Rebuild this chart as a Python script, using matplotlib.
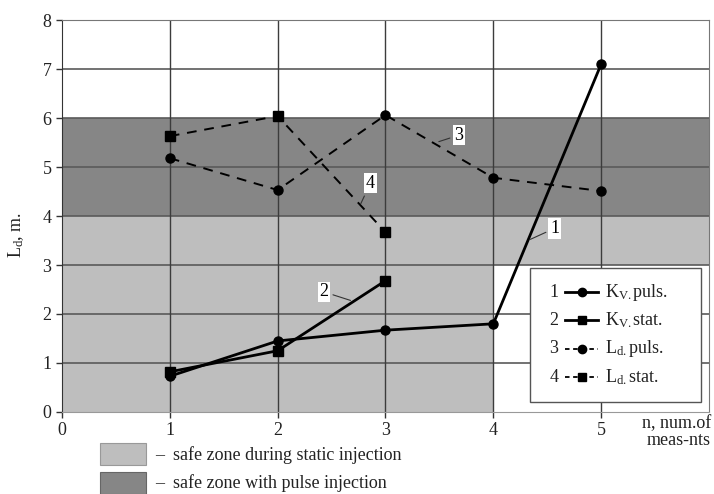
import matplotlib
matplotlib.use("Agg")
import matplotlib.pyplot as plt
from matplotlib.patches import Rectangle
from matplotlib.lines import Line2D

plt.rcParams["font.family"] = ["Liberation Serif", "DejaVu Serif"]
plt.rcParams["mathtext.fontset"] = "custom"
plt.rcParams["mathtext.rm"] = "Liberation Serif"
plt.rcParams["mathtext.it"] = "Liberation Serif"

# ── Data ────────────────────────────────────────────────────────────────────
n_puls = [1, 2, 3, 4, 5]
kv_puls = [0.73, 1.45, 1.67, 1.80, 7.10]      # 1: K_V puls.
n_stat = [1, 2, 3]
kv_stat = [0.82, 1.25, 2.68]                  # 2: K_V stat.
ld_puls = [5.18, 4.53, 6.06, 4.78, 4.51]      # 3: L_d puls.
ld_stat = [5.63, 6.04, 3.67]                  # 4: L_d stat.

x_ticks = [0, 1, 2, 3, 4, 5]
y_ticks = [0, 1, 2, 3, 4, 5, 6, 7, 8]

LIGHT = "#bebebe"
DARK = "#868686"

fig = plt.figure(figsize=(7.14, 4.94), dpi=100)
ax = fig.add_axes([0.0868, 0.166, 0.9062, 0.7935])
ax.set_xlim(0, 6)
ax.set_ylim(0, 8)

# safe zones
ax.add_patch(Rectangle((0, 4), 6, 2, fc=DARK, ec="none", zorder=0))
ax.add_patch(Rectangle((0, 0), 4, 4, fc=LIGHT, ec="none", zorder=0))
ax.add_patch(Rectangle((4, 3), 2, 1, fc=LIGHT, ec="none", zorder=0))

# grid
for y in y_ticks[1:-1]:
    ax.axhline(y, color="#5a5a5a", lw=1.2, zorder=1)
for x in x_ticks[1:]:
    ax.axvline(x, color="#3c3c3c", lw=1.0, zorder=1)

# series
ax.plot(n_puls, kv_puls, "-o", color="black", lw=2.0, ms=6.5, zorder=4)
ax.plot(n_stat, kv_stat, "-s", color="black", lw=2.0, ms=6.5, zorder=4)
ax.plot(n_puls, ld_puls, "--o", color="black", lw=1.4, ms=6.5,
        dashes=(5, 4), zorder=4)
ax.plot(n_stat, ld_stat, "--s", color="black", lw=1.4, ms=6.5,
        dashes=(5, 4), zorder=4)

# curve labels with leader lines
box = dict(boxstyle="square,pad=0.1", fc="white", ec="none")
lead = dict(arrowstyle="-", color="#333333", lw=0.8)
ax.annotate("1", xy=(4.32, 3.5), xytext=(4.57, 3.75), fontsize=13,
            ha="center", va="center", bbox=box, arrowprops=lead, zorder=5)
ax.annotate("2", xy=(2.70, 2.26), xytext=(2.43, 2.45), fontsize=13,
            ha="center", va="center", bbox=box, arrowprops=lead, zorder=5)
ax.annotate("3", xy=(3.47, 5.5), xytext=(3.68, 5.65), fontsize=13,
            ha="center", va="center", bbox=box, arrowprops=lead, zorder=5)
ax.annotate("4", xy=(2.76, 4.2), xytext=(2.86, 4.67), fontsize=13,
            ha="center", va="center", bbox=box, arrowprops=lead, zorder=5)

# legend box drawn by hand (number, handle, label)
ax.add_patch(Rectangle((0.723, 0.026), 0.265, 0.341, transform=ax.transAxes,
                       fc="white", ec="#555555", lw=1.0, zorder=6))
rows = [
    ("1", "-", "o", r"K$_{\rm V.}$puls."),
    ("2", "-", "s", r"K$_{\rm V.}$stat."),
    ("3", "--", "o", r"L$_{\rm d.}$puls."),
    ("4", "--", "s", r"L$_{\rm d.}$stat."),
]
for i, (num, ls, mk, lab) in enumerate(rows):
    yy = 0.306 - i * 0.0723
    ax.text(0.760, yy, num, transform=ax.transAxes, fontsize=13,
            ha="center", va="center", color="#222222", zorder=7)
    ax.add_line(Line2D([0.777, 0.829], [yy, yy], transform=ax.transAxes,
                       color="black", lw=2.0 if ls == "-" else 1.3,
                       linestyle=ls if ls == "-" else (0, (2.5, 2)),
                       zorder=7))
    ax.add_line(Line2D([0.803], [yy], transform=ax.transAxes, marker=mk,
                       ms=6, color="black", zorder=8))
    ax.text(0.840, yy, lab, transform=ax.transAxes, fontsize=13,
            ha="left", va="center", color="#222222", zorder=7)

# axes styling
ax.set_xticks(x_ticks)
ax.set_yticks(y_ticks)
ax.tick_params(labelsize=13, length=4, direction="out", width=1.0,
               colors="#333333", labelcolor="#222222")
for s in ax.spines.values():
    s.set_color("#777777")
ax.spines["left"].set_color("#333333")
ax.spines["bottom"].set_color("#999999")

fig.text(0.022, 0.524, r"L$_{\rm d}$, m.", rotation=90, fontsize=13,
         ha="center", va="center", color="#222222")
fig.text(0.996, 0.125, "n, num.of\nmeas-nts", fontsize=13, ha="right",
         va="center", linespacing=0.95, color="#222222")

# zone legend below the plot
fig.patches.append(Rectangle((100 / 714, 1 - 465 / 494), 46 / 714, 22 / 494,
                             transform=fig.transFigure, fc=LIGHT,
                             ec="#999999", lw=0.8))
fig.patches.append(Rectangle((100 / 714, 1 - 494 / 494), 46 / 714, 22 / 494,
                             transform=fig.transFigure, fc=DARK,
                             ec="#666666", lw=0.8))
fig.text(155 / 714, 1 - 455 / 494, "\u2013  safe zone during static injection",
         fontsize=13, ha="left", va="center", color="#222222")
fig.text(155 / 714, 1 - 483 / 494, "\u2013  safe zone with pulse injection",
         fontsize=13, ha="left", va="center", color="#222222")

fig.savefig("out.png", dpi=100)
